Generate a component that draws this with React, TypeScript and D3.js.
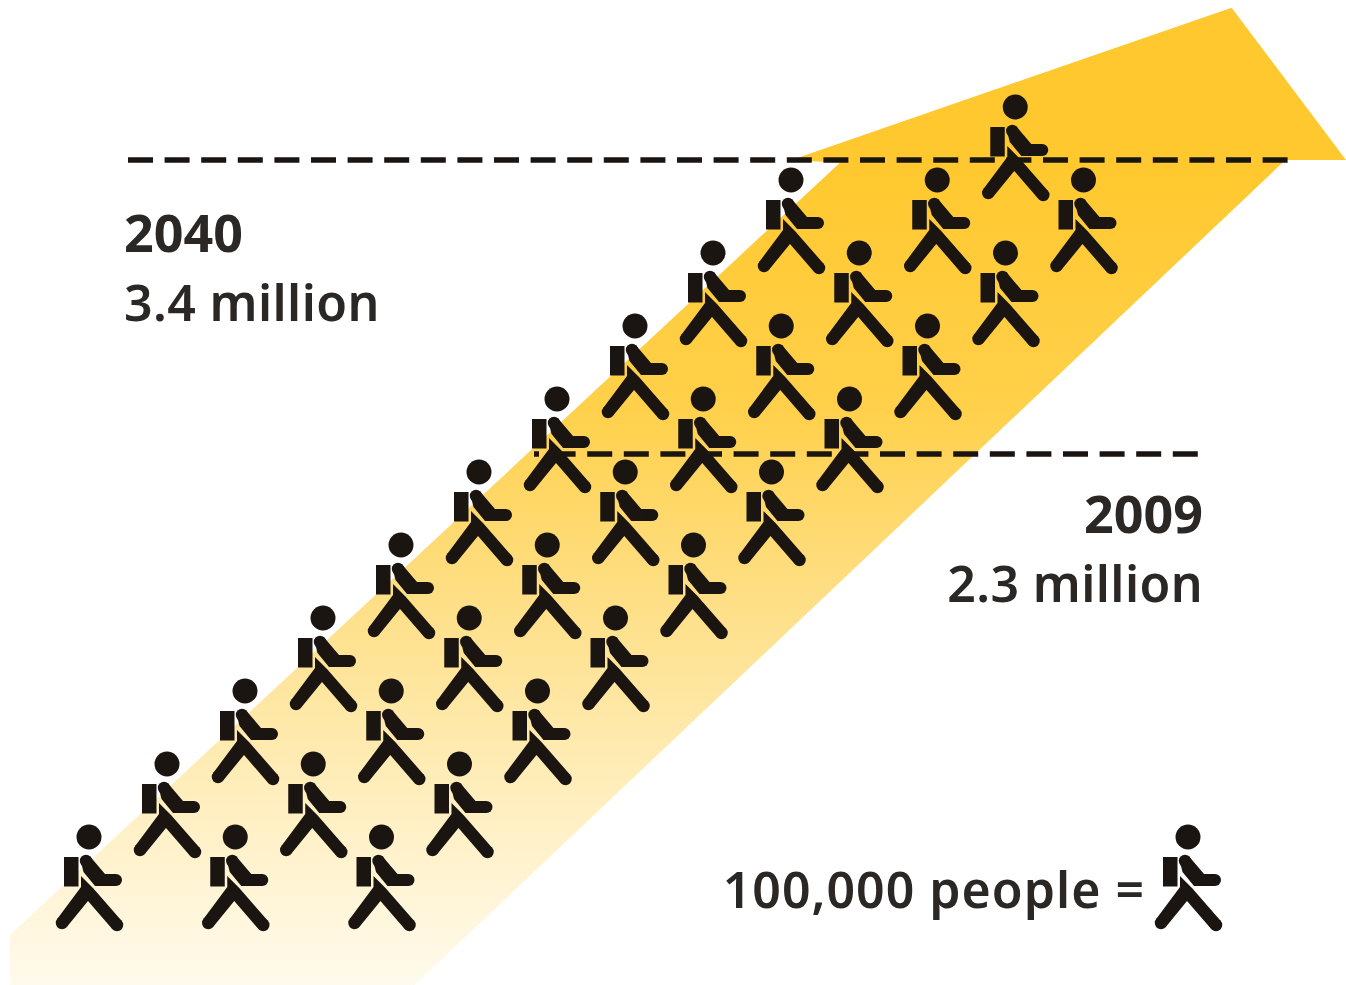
import React from "react";
import * as d3 from "d3";

// Walkers sit on a skewed lattice: rank counts up the slope, file counts across it.
const walkerRanks = [0, 0, 0, 1, 1, 1, 2, 2, 2, 3, 3, 3, 4, 4, 4, 5, 5, 5, 6, 6, 6, 7, 7, 7, 8, 8, 8, 9, 9, 9, 10];
const walkerFiles = [0, 1, 2, 0, 1, 2, 0, 1, 2, 0, 1, 2, 0, 1, 2, 0, 1, 2, 0, 1, 2, 0, 1, 2, 0, 1, 2, 0, 1, 2, 1];

// Reference levels, in millions of people.
const levelYears = ["2040", "2009"];
const levelValues = [3.4, 2.3];
const levelLabels = ["3.4 million", "2.3 million"];

// Outline of the rising band: horizontal position in percent of the width, height in millions.
const bandAcross = [0.74, 62.4, 58.8, 91.5, 100, 95.5, 30.8, 0.74];
const bandMillions = [0.5, 3.39, 3.4, 3.97, 3.4, 3.4, 0.313, 0.313];

const legendLabel = "100,000 people =";

const WIDTH = 1346;
const HEIGHT = 985;
const INK = "#1b1512";
const FONT = "'Noto Sans', sans-serif";

const yMillions = d3.scaleLinear().domain([2.3, 3.4]).range([454, 160]);
const xAcross = d3.scaleLinear().domain([0, 100]).range([0, WIDTH]);
const rankY = d3.scaleLinear().domain([0, 10]).range([837, 107]);
const rankX = d3.scaleLinear().domain([0, 10]).range([89, 869]);
const fileX = d3.scaleLinear().domain([0, 2]).range([0, 292.5]);

const pathOf = d3.line<[number, number]>();
const closed = (pts: [number, number][]) => (pathOf(pts) as string) + "Z";

// Pictogram outlines, relative to the centre of the head.
const armShape = closed([
  [0.7, 19], [16, 37], [27, 37], [27, 49], [6, 49], [-5.5, 35], [-7.5, 27],
]);
const legsShape = closed([
  [-8, 39], [4, 51], [33, 84.2], [23, 91.8], [-1, 64], [-22, 89.8], [-32, 82.2], [-8, 50],
]);

function Walker({ x, y }: { x: number; y: number }) {
  return (
    <g transform={`translate(${x},${y})`} fill={INK}>
      <circle r={12.5} />
      <rect x={-25} y={20} width={14.5} height={29.5} />
      <circle cx={-3} cy={24} r={6.2} />
      <path d={armShape} />
      <circle cx={27} cy={43} r={6} />
      <path d={legsShape} />
      <circle cx={28} cy={88} r={6.25} />
      <circle cx={-27} cy={86} r={6.25} />
    </g>
  );
}

export default function App() {
  const bandPoints = bandAcross.map((a, i): [number, number] => [xAcross(a), yMillions(bandMillions[i])]);
  const levelSpans = [[128, 1290], [534, 1198]];
  const levelDashOffsets = [0, 20];

  return (
    <svg
      width={WIDTH}
      height={HEIGHT}
      viewBox={`0 0 ${WIDTH} ${HEIGHT}`}
      style={{ position: "absolute", left: 0, top: 0, display: "block", background: "#fff" }}
    >
      <defs>
        <linearGradient id="bandFill" gradientUnits="userSpaceOnUse" x1={0} y1={160} x2={0} y2={985}>
          <stop offset="0" stopColor="#ffc82e" />
          <stop offset="0.3" stopColor="#ffd04a" />
          <stop offset="0.55" stopColor="#fee08a" />
          <stop offset="0.78" stopColor="#ffefc0" />
          <stop offset="1" stopColor="#fffaed" />
        </linearGradient>
      </defs>

      <path d={closed(bandPoints)} fill="url(#bandFill)" />

      {levelValues.map((v, i) => (
        <line
          key={levelYears[i]}
          x1={levelSpans[i][0]}
          x2={levelSpans[i][1]}
          y1={yMillions(v)}
          y2={yMillions(v)}
          stroke={INK}
          strokeWidth={5.5}
          strokeDasharray="25 11.6"
          strokeDashoffset={levelDashOffsets[i]}
        />
      ))}

      {walkerRanks.map((r, i) => (
        <Walker key={i} x={rankX(r) + fileX(walkerFiles[i])} y={rankY(r)} />
      ))}

      <g fontFamily={FONT} fill="#2b2725">
        <text x={124} y={252} fontSize={52} fontWeight={700}>{levelYears[0]}</text>
        <text x={124} y={321} fontSize={50} fontWeight={600} letterSpacing={0.4}>{levelLabels[0]}</text>
        <text x={1203} y={533} fontSize={52} fontWeight={700} textAnchor="end">{levelYears[1]}</text>
        <text x={1203} y={602} fontSize={50} fontWeight={600} letterSpacing={0.4} textAnchor="end">{levelLabels[1]}</text>
        <text x={1145} y={908} fontSize={50} fontWeight={600} letterSpacing={1} textAnchor="end">{legendLabel}</text>
      </g>

      <Walker x={1188} y={837} />
    </svg>
  );
}
